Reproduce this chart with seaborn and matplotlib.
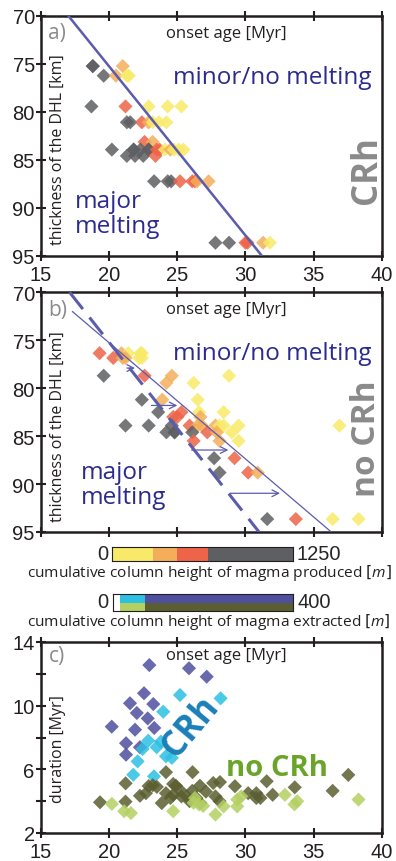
import numpy as np
import pandas as pd
import seaborn as sns
from matplotlib import pyplot as plt
from matplotlib import ticker as ticktools

#
#   Data
#

# panel a) CRh : onset age [Myr], thickness of DHL [km], magma class
a_age = [18.8, 18.8, 21.0,
         19.6, 20.5, 21.3, 21.45,
         18.7, 21.2, 22.9, 24.3, 25.3,
         21.3, 21.55, 22.4, 22.9, 23.2, 23.65, 24.2,
         22.6, 23.2,
         20.2, 21.8, 21.8, 22.3, 22.9, 22.9, 23.5, 23.7, 24.1, 24.5, 24.75, 25.1, 25.45,
         21.3, 21.9, 22.5, 23.4,
         23.3, 24.3, 24.55, 25.2, 26.1, 26.3, 26.45, 27.3,
         27.8, 28.8, 30.0, 30.15, 31.3, 31.8]
a_thick = [75.25, 75.25, 75.25,
           76.25, 76.25, 76.25, 76.25,
           79.45, 79.45, 79.45, 79.45, 79.45,
           81.1, 81.1, 81.1, 81.1, 81.1, 81.1, 81.1,
           83.15, 83.15,
           83.95, 83.95, 83.95, 83.95, 83.95, 83.95, 83.95, 83.95, 83.95, 83.95, 83.95, 83.95, 83.95,
           84.6, 84.6, 84.6, 84.6,
           87.25, 87.25, 87.25, 87.25, 87.25, 87.25, 87.25, 87.25,
           93.65, 93.65, 93.65, 93.65, 93.65, 93.65]
a_class = ["gray", "gray", "orange",
           "gray", "orange", "yellow", "yellow",
           "gray", "red", "yellow", "yellow", "yellow",
           "gray", "gray", "red", "orange", "yellow", "yellow", "yellow",
           "red", "orange",
           "gray", "gray", "gray", "gray", "gray", "gray", "red", "red", "yellow", "orange", "yellow", "yellow", "yellow",
           "gray", "gray", "gray", "red",
           "gray", "gray", "gray", "red", "red", "red", "orange", "orange",
           "gray", "gray", "red", "red", "orange", "yellow"]

# panel b) no CRh
b_age = [19.3, 20.9, 21.4, 22.3, 22.4,
         20.3, 21.0, 21.2, 22.2, 22.4,
         19.6, 22.6, 24.6, 28.8,
         24.2, 26.2,
         22.4, 23.9, 26.5,
         23.6, 25.3, 26.6, 28.4,
         24.7, 25.0, 26.7,
         21.2, 22.9, 24.6, 25.9, 26.5, 26.8, 27.8, 28.1, 28.4, 29.5, 36.9,
         24.2, 24.8, 24.8, 26.1, 27.2, 27.9, 29.0,
         26.2, 28.1, 29.5,
         27.7, 29.2,
         28.1, 30.2, 30.9,
         31.6, 33.7, 36.4, 38.3]
b_thick = [76.35, 76.35, 76.35, 76.35, 76.35,
           76.85, 76.85, 76.85, 76.85, 76.85,
           78.7, 78.7, 78.7, 78.7,
           79.45, 79.45,
           81.2, 81.2, 81.2,
           82.5, 82.5, 82.5, 82.5,
           83.0, 83.0, 83.0,
           83.9, 83.9, 83.9, 83.9, 83.9, 83.9, 83.9, 83.9, 83.9, 83.9, 83.9,
           84.6, 84.6, 84.6, 84.6, 84.6, 84.6, 84.6,
           85.5, 85.5, 85.5,
           87.3, 87.3,
           88.8, 88.8, 88.8,
           93.65, 93.65, 93.65, 93.65]
b_class = ["red", "orange", "yellow", "yellow", "yellow",
           "red", "orange", "orange", "yellow", "yellow",
           "gray", "red", "orange", "yellow",
           "orange", "yellow",
           "gray", "orange", "yellow",
           "gray", "red", "yellow", "yellow",
           "red", "red", "orange",
           "gray", "gray", "gray", "red", "orange", "orange", "orange", "yellow", "yellow", "yellow", "yellow",
           "gray", "gray", "gray", "gray", "red", "orange", "yellow",
           "red", "orange", "yellow",
           "gray", "red",
           "gray", "red", "orange",
           "gray", "red", "yellow", "yellow"]

# panel c) onset age vs duration
c_age = [22.95, 25.86, 27.16, 22.56, 21.53, 23.24, 22.03, 22.83, 20.19, 21.9,
         23.31, 21.24, 22.26, 21.24,
         25.2, 28.18, 23.97, 22.87, 23.8, 22.46, 23.49, 24.17, 24.6, 22.09,
         21.77, 23.29,
         24.17, 26.12, 37.55, 21.21, 31.56, 22.9, 23.2, 23.5, 24.7, 24.9,
         26.66, 27.64, 28.13, 29.23, 33.62, 22.26, 22.7, 24.17, 24.7, 25.3,
         26.1, 27.1, 27.8, 30.2, 30.8, 31.1, 32.0, 36.4, 19.33, 21.2, 23.86,
         25.9, 26.7, 28.1, 30.8, 25.2, 25.7, 26.4, 24.5,
         20.2, 21.1, 21.6, 24.7, 26.3, 26.6, 26.9, 27.8, 28.4, 29.4, 29.4,
         29.7, 32.9, 33.6, 33.8, 38.3, 26.2]
c_dur = [12.55, 12.35, 11.82, 10.78, 10.15, 10.1, 9.54, 9.2, 8.68, 8.49,
         8.6, 7.64, 7.39, 6.92,
         10.67, 10.46, 9.62, 7.8, 7.74, 7.28, 7.39, 6.82, 6.72, 6.5,
         5.66, 5.56,
         5.82, 5.82, 5.65, 5.12, 5.25, 4.95, 5.0, 4.9, 5.08, 4.97,
         4.97, 5.14, 5.2, 4.94, 4.87, 4.34, 4.5, 4.5, 4.4, 4.3,
         4.65, 4.6, 4.3, 4.5, 4.5, 4.2, 4.4, 4.65, 3.93, 3.97, 3.88,
         4.0, 3.88, 4.0, 4.2, 4.7, 4.3, 4.2, 4.2,
         3.83, 3.37, 3.25, 3.37, 4.2, 3.8, 3.7, 3.16, 3.67, 3.67, 4.1,
         4.3, 4.4, 3.8, 4.0, 4.1, 3.9]
c_class = ["blue"] * 14 + ["cyan"] * 12 + ["olive"] * 39 + ["lime"] * 17

# colour scales (bin edges of the two colourbars)
prod_edges = [0, 280, 450, 660, 1250]
prod_names = ["yellow", "orange", "red", "gray"]
extr_edges = [0, 15, 70, 400]
extr_top = ["white", "cyan", "blue"]
extr_bot = ["white", "lime", "olive"]

colours = {"yellow": "#f8ea68", "orange": "#f4ae5a", "red": "#ee6448",
           "gray": "#5e5f62", "blue": "#4f4f9f", "cyan": "#2dc0e2",
           "olive": "#5a5e30", "lime": "#b4d062", "white": "#ffffff"}

LINE = "#5c5cac"
TXT_BLUE = "#2b2b8f"
GREY_TXT = "#8a8a8a"


def main():

    sns.set_theme(style="ticks")
    plt.rcParams['font.family'] = ['Liberation Sans', 'DejaVu Sans']
    plt.rcParams['mathtext.fontset'] = 'custom'
    plt.rcParams['mathtext.it'] = 'Open Sans:italic'
    plt.rcParams['axes.edgecolor'] = '#231f20'
    plt.rcParams['axes.linewidth'] = 1.8

    fig = plt.figure(figsize=(3.96, 8.62), dpi=100)
    W, H = 396.0, 862.0

    def box(l, t, r, b):
        return [l / W, 1 - b / H, (r - l) / W, (b - t) / H]

    ax_a = fig.add_axes(box(41, 16.7, 381.7, 256.7))
    ax_b = fig.add_axes(box(41, 293.3, 381.7, 533))
    ax_c = fig.add_axes(box(41, 643, 381.7, 834))

    df_a = pd.DataFrame({"age": a_age, "thick": a_thick, "cls": a_class})
    df_b = pd.DataFrame({"age": b_age, "thick": b_thick, "cls": b_class})
    df_c = pd.DataFrame({"age": c_age, "dur": c_dur, "cls": c_class})

    kw = dict(marker="D", s=52, alpha=0.85, linewidth=0, legend=False,
              palette=colours, zorder=3)
    sns.scatterplot(data=df_a, x="age", y="thick", hue="cls", ax=ax_a, **kw)
    sns.scatterplot(data=df_b, x="age", y="thick", hue="cls", ax=ax_b, **kw)
    sns.scatterplot(data=df_c, x="age", y="dur", hue="cls", ax=ax_c, **kw)

    for ax in (ax_a, ax_b, ax_c):
        ax.set_xlim(15, 40)
        ax.set_xticks([15, 20, 25, 30, 35, 40])
        ax.set_xlabel("")
        ax.set_ylabel("")
        ax.tick_params(axis="both", direction="inout", length=7, width=1.5,
                       labelsize=14.5, colors="#231f20", pad=1)
        ax.tick_params(axis="x", top=True, bottom=True, pad=3)
        for sp in ax.spines.values():
            sp.set_visible(True)
            sp.set_linewidth(1.8)

    for ax in (ax_a, ax_b):
        ax.set_ylim(95, 70)
        ax.set_yticks([70, 75, 80, 85, 90, 95])
    ax_b.tick_params(axis="x", labelbottom=False)

    ax_c.set_ylim(2, 14)
    ax_c.yaxis.set_major_locator(ticktools.MultipleLocator(2))
    ax_c.yaxis.set_major_formatter(ticktools.FuncFormatter(
        lambda v, p: "%d" % v if int(round(v)) % 4 == 2 else ""))

    # melting boundaries
    ax_a.plot([17.0, 31.2], [70, 95], color=LINE, lw=1.8, zorder=4)
    ax_b.plot([17.1, 31.0], [70, 95], color=LINE, lw=2.2, ls=(0, (7, 3.5)), zorder=4)
    ax_b.plot([17.3, 36.3], [72, 95], color=LINE, lw=0.9, zorder=4)
    for y0, x0, x1 in [(77.9, 21.3, 21.9), (81.8, 23.1, 25.0),
                       (86.45, 26.05, 28.75), (90.96, 28.87, 32.54)]:
        ax_b.annotate("", xy=(x1, y0), xytext=(x0, y0),
                      arrowprops=dict(arrowstyle="->", color=LINE, lw=0.9,
                                      shrinkA=0, shrinkB=0), zorder=4)

    sans = ["Open Sans", "DejaVu Sans"]
    for ax, lab in ((ax_a, "a)"), (ax_b, "b)"), (ax_c, "c)")):
        ax.text(0.022, 0.93, lab, transform=ax.transAxes, color=GREY_TXT,
                fontsize=15, family=sans, ha="left", va="center")
        ax.text(0.545, 0.93, "onset age [Myr]", transform=ax.transAxes,
                fontsize=12, family=sans, ha="center", va="center",
                color="#231f20")

    for ax in (ax_a, ax_b):
        ax.text(0.048, 0.445, "thickness of the DHL [km]", transform=ax.transAxes,
                rotation=90, fontsize=11.5, family=sans, ha="center", va="center",
                color="#231f20")
        ax.text(0.68, 0.745, "minor/no melting", transform=ax.transAxes,
                fontsize=17.5, family=sans, ha="center", va="center", color=TXT_BLUE)
    ax_a.text(0.1, 0.175, "major\nmelting", transform=ax_a.transAxes, fontsize=17.5,
              family=sans, ha="left", va="center", color=TXT_BLUE, linespacing=1.05)
    ax_b.text(0.118, 0.2, "major\nmelting", transform=ax_b.transAxes, fontsize=17.5,
              family=sans, ha="left", va="center", color=TXT_BLUE, linespacing=1.05)
    ax_a.text(0.956, 0.36, "CRh", transform=ax_a.transAxes, rotation=90,
              fontsize=25, weight="bold", family=sans, ha="center", va="center",
              color=GREY_TXT)
    ax_b.text(0.956, 0.395, "no CRh", transform=ax_b.transAxes, rotation=90,
              fontsize=24, weight="bold", family=sans, ha="center", va="center",
              color=GREY_TXT)

    ax_c.text(0.05, 0.445, "duration [Myr]", transform=ax_c.transAxes,
              rotation=90, fontsize=11.5, family=sans, ha="center", va="center",
              color="#231f20")
    ax_c.text(26.0, 8.7, "CRh", rotation=50, fontsize=25, weight="bold",
              family=sans, ha="center", va="center", color="#1b7fb8", zorder=5)
    ax_c.text(32.3, 6.1, "no CRh", fontsize=21, weight="bold",
              family=sans, ha="center", va="center", color="#6aa42a", zorder=5)

    # colour bars
    cb1 = fig.add_axes(box(112, 548, 293, 562))
    lefts = prod_edges[:-1]
    widths = np.diff(prod_edges)
    cb1.barh([0] * 4, widths, left=lefts, height=1,
             color=[colours[n] for n in prod_names], linewidth=0)
    cb1.set_xlim(0, 1250)
    cb1.set_ylim(-0.5, 0.5)

    cb2 = fig.add_axes(box(113, 595, 293, 612))
    lefts = extr_edges[:-1]
    widths = np.diff(extr_edges)
    cb2.barh([1] * 3, widths, left=lefts, height=1,
             color=[colours[n] for n in extr_top], linewidth=0)
    cb2.barh([0] * 3, widths, left=lefts, height=1,
             color=[colours[n] for n in extr_bot], linewidth=0)
    cb2.set_xlim(0, 400)
    cb2.set_ylim(-0.5, 1.5)

    for cb in (cb1, cb2):
        cb.set_xticks([])
        cb.set_yticks([])
        for sp in cb.spines.values():
            sp.set_visible(True)
            sp.set_linewidth(0.8)
            sp.set_color("#231f20")

    fig.text(108 / W, 1 - 555 / H, "0", fontsize=14.5, ha="right", va="center")
    fig.text(297 / W, 1 - 555 / H, "1250", fontsize=14.5, ha="left", va="center")
    fig.text(108 / W, 1 - 603 / H, "0", fontsize=14.5, ha="right", va="center")
    fig.text(297 / W, 1 - 603 / H, "400", fontsize=14.5, ha="left", va="center")
    fig.text(209 / W, 1 - 573 / H,
             r"cumulative column height of magma produced $[m]$",
             fontsize=11.1, family=sans, ha="center", va="center", color="#231f20")
    fig.text(209 / W, 1 - 622 / H,
             r"cumulative column height of magma extracted $[m]$",
             fontsize=11.1, family=sans, ha="center", va="center", color="#231f20")

    fig.savefig("out.png", dpi=100)


main()
